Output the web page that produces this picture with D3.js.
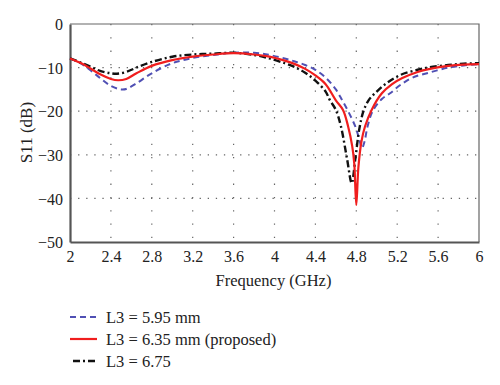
<!DOCTYPE html>
<html>
<head>
<meta charset="utf-8">
<script src="https://cdn.jsdelivr.net/npm/d3@7"></script>
<style>
  body { margin: 0; background: #fff; }
  text { font-family: "Liberation Serif", "DejaVu Serif", serif; fill: #222; }
</style>
</head>
<body>
<svg id="chart" width="500" height="385"></svg>
<script>
// S11 vs frequency for three L3 values
var xTicks = [2, 2.4, 2.8, 3.2, 3.6, 4, 4.4, 4.8, 5.2, 5.6, 6];
var yTicks = [0, -10, -20, -30, -40, -50];

var freqA = [2.0, 2.1, 2.2, 2.3, 2.4, 2.5, 2.55, 2.65, 2.8, 3.0, 3.2, 3.4, 3.6, 3.8, 3.95, 4.1, 4.2, 4.3, 4.4, 4.5, 4.6, 4.66, 4.72, 4.79, 4.83, 4.855, 4.88, 4.91, 4.96, 5.05, 5.13, 5.23, 5.35, 5.52, 5.7, 5.85, 6.0];
var s11A  = [-7.9, -9.0, -10.6, -12.5, -14.2, -15.0, -14.9, -13.6, -11.3, -9.0, -7.8, -7.1, -6.6, -6.6, -7.1, -7.9, -8.6, -9.4, -10.5, -12.3, -15.0, -17.4, -20.0, -23.5, -26.5, -28.5, -27.0, -23.5, -20.0, -17.2, -15.9, -14.0, -12.3, -11.1, -10.0, -9.5, -9.2];

var freqB = [2.0, 2.1, 2.2, 2.3, 2.4, 2.47, 2.55, 2.65, 2.8, 3.0, 3.2, 3.4, 3.6, 3.8, 3.95, 4.1, 4.2, 4.3, 4.4, 4.5, 4.6, 4.67, 4.72, 4.76, 4.78, 4.8, 4.82, 4.85, 4.885, 4.95, 5.05, 5.15, 5.25, 5.4, 5.52, 5.7, 5.85, 6.0];
var s11B  = [-7.9, -8.9, -10.2, -11.6, -12.6, -12.9, -12.6, -11.3, -9.6, -8.3, -7.5, -7.0, -6.7, -7.0, -7.5, -8.4, -9.2, -10.3, -11.8, -13.8, -17.5, -19.7, -23.5, -28.0, -32.0, -41.5, -33.0, -27.0, -23.5, -19.7, -15.9, -13.8, -12.4, -11.0, -10.3, -9.6, -9.3, -9.2];

var freqC = [2.0, 2.1, 2.2, 2.3, 2.4, 2.46, 2.55, 2.65, 2.8, 3.0, 3.2, 3.4, 3.6, 3.8, 3.95, 4.1, 4.2, 4.3, 4.4, 4.5, 4.54, 4.6, 4.65, 4.71, 4.755, 4.79, 4.83, 4.87, 4.92, 5.0, 5.1, 5.23, 5.4, 5.52, 5.7, 5.85, 6.0];
var s11C  = [-7.9, -8.8, -9.8, -10.8, -11.3, -11.4, -11.0, -10.0, -8.7, -7.5, -7.0, -6.8, -6.6, -7.1, -7.9, -9.0, -9.9, -11.2, -13.0, -15.5, -17.4, -19.7, -23.5, -31.0, -36.5, -31.0, -24.0, -20.0, -17.5, -15.5, -13.5, -11.7, -10.5, -9.9, -9.4, -9.1, -9.0];

var seriesNames = ["L3 = 5.95 mm", "L3 = 6.35 mm (proposed)", "L3 = 6.75"];

var svg = d3.select("#chart"),
    margin = {top: 24, right: 21, bottom: 143, left: 70},
    width = +svg.attr("width") - margin.left - margin.right,
    height = +svg.attr("height") - margin.top - margin.bottom;

var g = svg.append("g").attr("transform", "translate(" + margin.left + "," + margin.top + ")");

var x = d3.scaleLinear().domain([2, 6]).range([0, width]);
var y = d3.scaleLinear().domain([-50, 0]).range([height, 0]);

// grid
g.append("g").selectAll("line")
    .data(xTicks.slice(1, -1))
    .enter().append("line")
    .attr("x1", function (d) { return x(d); })
    .attr("x2", function (d) { return x(d); })
    .attr("y1", 0).attr("y2", height)
    .attr("stroke", "#666").attr("stroke-width", 1.2)
    .attr("stroke-dasharray", "1.3,12");
g.append("g").selectAll("line")
    .data(yTicks.slice(1, -1))
    .enter().append("line")
    .attr("y1", function (d) { return y(d); })
    .attr("y2", function (d) { return y(d); })
    .attr("x1", 0).attr("x2", width)
    .attr("stroke", "#666").attr("stroke-width", 1.2)
    .attr("stroke-dasharray", "1.3,6.8");

// frame
g.append("path")
    .attr("d", "M0,0H" + width + "V" + height)
    .attr("fill", "none").attr("stroke", "#666").attr("stroke-width", 1.2);

var xAxis = g.append("g")
    .attr("transform", "translate(0," + height + ")")
    .call(d3.axisBottom(x).tickValues(xTicks).tickSize(0).tickPadding(9)
        .tickFormat(function (d) { return String(d); }));
var yAxis = g.append("g")
    .call(d3.axisLeft(y).tickValues(yTicks).tickSize(0).tickPadding(7)
        .tickFormat(function (d) { return d < 0 ? "\u2212" + (-d) : d; }));

[xAxis, yAxis].forEach(function (a) {
    a.select(".domain").attr("stroke", "#555").attr("stroke-width", 2.2);
    a.selectAll("text").style("font-size", "16px").attr("fill", "#222")
        .style("font-family", "'Liberation Serif', serif");
});
yAxis.selectAll("text").attr("dy", "0.35em");

g.append("text")
    .attr("x", width / 2 - 1)
    .attr("y", height + 44)
    .attr("text-anchor", "middle")
    .style("font-size", "16.5px")
    .text("Frequency (GHz)");

g.append("text")
    .attr("transform", "translate(-38," + (height / 2 - 0.5) + ") rotate(-90)")
    .attr("text-anchor", "middle")
    .style("font-size", "17px")
    .text("S11 (dB)");

var line = d3.line()
    .x(function (d) { return x(d[0]); })
    .y(function (d) { return y(d[1]); })
    .curve(d3.curveCatmullRom.alpha(0.5));

var styles = [
    {color: "#5050b4", width: 2, dash: "6,4"},
    {color: "#f01e1e", width: 2.2, dash: null},
    {color: "#111", width: 2.4, dash: "7,3,2,3"}
];
var data = [d3.zip(freqA, s11A), d3.zip(freqB, s11B), d3.zip(freqC, s11C)];
var drawOrder = [0, 2, 1];

drawOrder.forEach(function (i) {
    g.append("path")
        .datum(data[i])
        .attr("fill", "none")
        .attr("stroke", styles[i].color)
        .attr("stroke-width", styles[i].width)
        .attr("stroke-dasharray", styles[i].dash)
        .attr("d", line);
});

// legend
var legend = svg.append("g").attr("transform", "translate(70,317)");
seriesNames.forEach(function (name, i) {
    var row = legend.append("g").attr("transform", "translate(0," + (i * 22) + ")");
    row.append("line")
        .attr("x1", i == 2 ? 3 : 0).attr("x2", 27).attr("y1", 0).attr("y2", 0)
        .attr("stroke", styles[i].color)
        .attr("stroke-width", styles[i].width)
        .attr("stroke-dasharray", styles[i].dash);
    row.append("text")
        .attr("x", 36).attr("y", 0).attr("dy", "0.35em")
        .style("font-size", "16.5px")
        .text(name);
});
</script>
</body>
</html>
